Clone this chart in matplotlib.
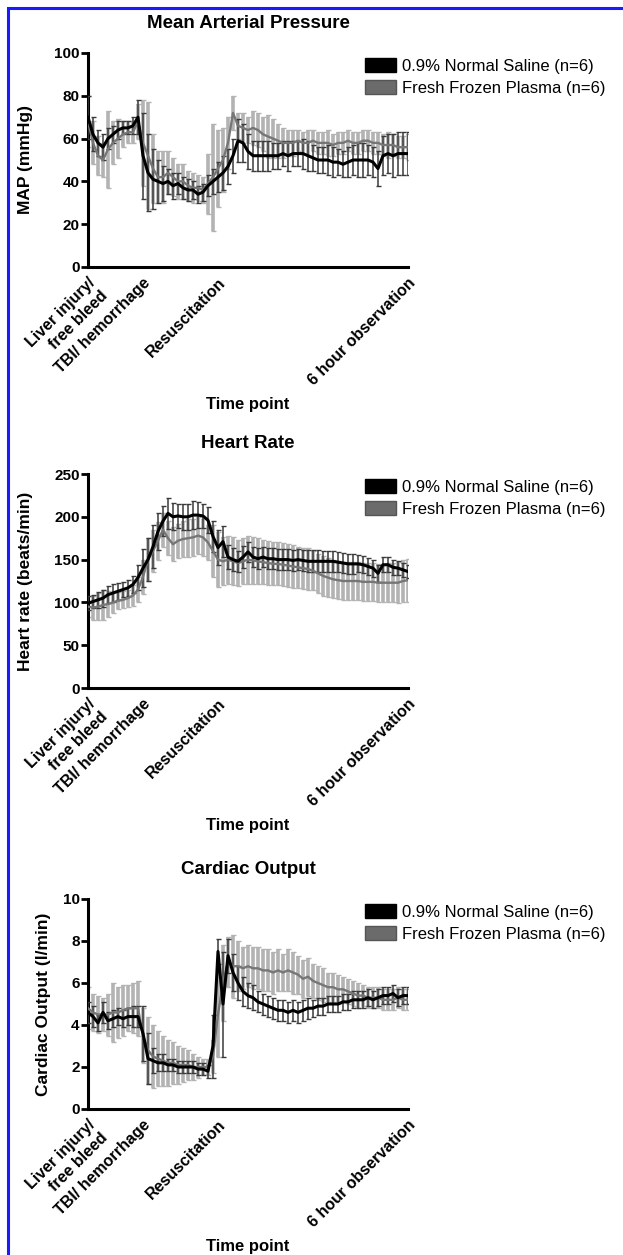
import numpy as np
import matplotlib
matplotlib.use("Agg")
import matplotlib.pyplot as plt
from matplotlib.patches import Patch, Rectangle

plt.rcParams['font.family'] = ['Liberation Sans', 'DejaVu Sans']

# time point labels and where they sit on the sample index axis
tick_pos = [0, 11, 26, 64]
tick_labels = ['Liver injury/\nfree bleed', 'TBI/ hemorrhage', 'Resuscitation', '6 hour observation']
legend_labels = ['0.9% Normal Saline (n=6)', 'Fresh Frozen Plasma (n=6)']

# Mean arterial pressure (mmHg)
map_ns = [70, 62, 58, 56, 60, 62, 64, 65, 65, 66, 70, 52, 44, 41, 40, 39, 40, 38, 39, 37,
          36, 36, 34, 35, 38, 40, 42, 44, 47, 52, 59, 58, 54, 52, 52, 52, 52, 52, 52, 53,
          52, 53, 53, 53, 52, 51, 50, 50, 50, 49, 49, 48, 49, 50, 50, 50, 50, 49, 46, 52,
          53, 52, 53, 53, 53]
map_ns_sd = [10, 8, 6, 6, 5, 4, 4, 3, 3, 4, 8, 20, 18, 14, 10, 8, 6, 6, 5, 5,
             5, 4, 4, 4, 5, 6, 7, 8, 8, 8, 10, 9, 8, 7, 7, 7, 7, 6, 6, 6,
             7, 6, 6, 7, 7, 6, 6, 6, 7, 7, 6, 6, 7, 7, 8, 8, 7, 7, 8, 9,
             9, 10, 10, 10, 10]
map_ffp = [68, 58, 52, 50, 55, 58, 60, 62, 63, 63, 68, 58, 52, 46, 42, 42, 44, 42, 40, 40,
           38, 37, 37, 36, 39, 42, 46, 50, 58, 72, 66, 65, 64, 65, 64, 62, 61, 60, 59, 58,
           58, 58, 59, 58, 58, 59, 58, 58, 58, 57, 58, 58, 59, 58, 58, 59, 59, 58, 58, 57,
           57, 57, 56, 56, 56]
map_ffp_sd = [12, 10, 9, 8, 18, 10, 9, 6, 5, 5, 8, 20, 25, 16, 12, 12, 10, 9, 8, 8,
              7, 7, 6, 6, 14, 25, 18, 15, 12, 8, 6, 7, 6, 8, 8, 8, 10, 9, 8, 7,
              6, 6, 5, 5, 6, 5, 5, 5, 6, 5, 5, 5, 5, 5, 5, 5, 5, 5, 5, 5,
              6, 5, 5, 5, 6]

# Heart rate (beats/min)
hr_ns = [99, 101, 103, 105, 109, 111, 113, 115, 117, 121, 129, 140, 150, 165, 183, 195, 204, 200, 201, 200,
         200, 202, 202, 201, 196, 177, 164, 171, 153, 150, 148, 153, 159, 153, 151, 153, 151, 151, 150, 150,
         150, 149, 150, 149, 148, 148, 148, 148, 148, 148, 147, 146, 145, 145, 145, 144, 142, 140, 134, 144,
         144, 141, 140, 138, 136]
hr_ns_sd = [8, 8, 9, 10, 10, 10, 10, 9, 9, 10, 15, 22, 25, 25, 22, 18, 18, 16, 14, 15,
            15, 16, 15, 14, 15, 18, 20, 18, 14, 13, 12, 13, 12, 12, 12, 12, 12, 12, 12, 12,
            12, 12, 12, 12, 13, 13, 13, 12, 12, 12, 12, 12, 12, 12, 10, 10, 10, 10, 10, 9,
            9, 9, 8, 8, 8]
hr_ffp = [95, 94, 95, 97, 98, 100, 102, 103, 105, 108, 115, 130, 150, 160, 172, 185, 175, 168, 172, 174,
          175, 176, 178, 176, 170, 160, 150, 148, 150, 148, 146, 148, 150, 149, 148, 147, 146, 145, 145, 144,
          143, 142, 141, 140, 139, 137, 134, 131, 129, 127, 126, 125, 125, 125, 125, 124, 124, 124, 123, 123,
          123, 123, 123, 125, 126]
hr_ffp_sd = [12, 14, 16, 17, 15, 12, 10, 10, 10, 12, 15, 20, 25, 25, 22, 20, 20, 20, 20, 21,
             22, 22, 22, 22, 20, 30, 32, 28, 28, 28, 27, 27, 28, 27, 27, 26, 26, 25, 25, 25,
             25, 25, 24, 24, 24, 23, 23, 23, 23, 22, 22, 22, 22, 22, 22, 22, 22, 22, 22, 22,
             23, 23, 24, 25, 25]

# Cardiac output (l/min)
co_ns = [4.6, 4.4, 4.1, 4.6, 4.2, 4.3, 4.4, 4.3, 4.4, 4.4, 4.4, 3.6, 2.4, 2.3, 2.2, 2.2, 2.1, 2.1, 2.0, 2.0,
         2.0, 2.0, 1.9, 1.9, 1.8, 3.0, 7.5, 5.0, 7.3, 6.5, 6.0, 5.6, 5.4, 5.3, 5.1, 5.0, 4.9, 4.8, 4.7, 4.7,
         4.6, 4.7, 4.6, 4.7, 4.8, 4.8, 4.9, 4.9, 5.0, 5.0, 5.0, 5.1, 5.1, 5.2, 5.2, 5.2, 5.3, 5.2, 5.3, 5.4,
         5.4, 5.5, 5.3, 5.4, 5.4]
co_ns_sd = [0.5, 0.5, 0.4, 0.5, 0.4, 0.4, 0.4, 0.4, 0.4, 0.5, 0.5, 1.3, 1.2, 0.6, 0.4, 0.4, 0.3, 0.3, 0.3, 0.3,
            0.3, 0.3, 0.3, 0.3, 0.3, 1.5, 0.6, 2.5, 0.8, 0.9, 0.8, 0.7, 0.6, 0.6, 0.5, 0.5, 0.5, 0.5, 0.5, 0.5,
            0.5, 0.5, 0.5, 0.5, 0.5, 0.4, 0.4, 0.4, 0.4, 0.4, 0.4, 0.4, 0.4, 0.4, 0.4, 0.4, 0.4, 0.4, 0.4, 0.4,
            0.4, 0.4, 0.4, 0.4, 0.4]
co_ffp = [4.8, 4.6, 4.5, 4.5, 4.5, 4.6, 4.6, 4.7, 4.8, 4.8, 4.8, 3.5, 2.8, 2.5, 2.4, 2.3, 2.2, 2.2, 2.1, 2.1,
          2.1, 2.0, 2.0, 2.0, 2.0, 2.5, 4.5, 6.0, 7.0, 6.8, 6.8, 6.7, 6.8, 6.7, 6.7, 6.6, 6.6, 6.5, 6.6, 6.5,
          6.6, 6.5, 6.4, 6.2, 6.3, 6.1, 6.0, 5.9, 5.8, 5.8, 5.7, 5.7, 5.6, 5.5, 5.4, 5.4, 5.3, 5.3, 5.3, 5.2,
          5.2, 5.2, 5.3, 5.2, 5.2]
co_ffp_sd = [1.0, 0.9, 0.9, 0.8, 1.0, 1.4, 1.2, 1.2, 1.1, 1.2, 1.3, 1.3, 1.6, 1.5, 1.3, 1.2, 1.1, 1.0, 0.9, 0.8,
             0.7, 0.6, 0.5, 0.4, 0.4, 0.8, 2.0, 1.8, 1.2, 1.5, 1.2, 1.0, 1.0, 1.0, 1.0, 1.0, 1.0, 1.0, 1.0, 0.9,
             1.0, 1.0, 0.9, 0.9, 0.9, 0.8, 0.8, 0.8, 0.7, 0.7, 0.7, 0.6, 0.6, 0.6, 0.6, 0.5, 0.5, 0.5, 0.5, 0.5,
             0.5, 0.5, 0.5, 0.5, 0.5]

panels = [
    ('Mean Arterial Pressure', 'MAP (mmHg)', map_ns, map_ns_sd, map_ffp, map_ffp_sd,
     100, 20, 53, 267, -0.172),
    ('Heart Rate', 'Heart rate (beats/min)', hr_ns, hr_ns_sd, hr_ffp, hr_ffp_sd,
     250, 50, 474, 688, -0.172),
    ('Cardiac Output', 'Cardiac Output (l/min)', co_ns, co_ns_sd, co_ffp, co_ffp_sd,
     10, 2, 899, 1109, -0.115),
]

W, H = 623, 1255
fig = plt.figure(figsize=(W / 100, H / 100), dpi=100)

for title, ylab, ns, ns_sd, ffp, ffp_sd, ymax, ystep, top, bot, ylx in panels:
    ax = fig.add_axes([88 / W, 1 - bot / H, 320 / W, (bot - top) / H])
    t = np.arange(len(ns))

    # light grey bars for plasma, darker thin bars for saline, then the mean lines
    _, caps, _ = ax.errorbar(t, ffp, yerr=ffp_sd, fmt='none', ecolor='#b3b3b3', elinewidth=2.6,
                             capsize=1.8, capthick=1.0, zorder=2)
    for c in caps:
        c.set_color('#888888')
    ax.errorbar(t, ns, yerr=ns_sd, fmt='none', ecolor='#3a3a3a', elinewidth=1.1,
                capsize=1.8, capthick=1.0, zorder=3)
    ax.plot(t, ffp, color='#767676', lw=1.7, zorder=4)
    ax.plot(t, ns, color='black', lw=2.2, zorder=5)

    ax.set_xlim(0, len(ns) - 1)
    ax.set_ylim(0, ymax)
    ax.set_yticks(np.arange(0, ymax + ystep / 2, ystep))
    ax.set_xticks(tick_pos)
    ax.set_xticklabels(tick_labels, rotation=45, ha='right', rotation_mode='anchor',
                       fontsize=11.5, fontweight='bold')
    for lab in ax.get_yticklabels():
        lab.set_fontweight('bold')
        lab.set_fontsize(11)
    ax.tick_params(axis='x', length=0, pad=6)
    ax.tick_params(axis='y', length=5, width=2, pad=1)

    for s in ['top', 'right']:
        ax.spines[s].set_visible(False)
    for s in ['left', 'bottom']:
        ax.spines[s].set_linewidth(2.2)

    ax.set_ylabel(ylab, fontsize=12.5, fontweight='bold')
    ax.yaxis.set_label_coords(ylx, 0.5)
    ax.set_xlabel('Time point', fontsize=12, fontweight='bold')
    ax.xaxis.set_label_coords(0.5, -(138 - 8) / (bot - top))

    ax.text(0.5, 1 + 30 / (bot - top), title, transform=ax.transAxes,
            ha='center', va='center', fontsize=13.5, fontweight='bold')

    handles = [Patch(facecolor='black', edgecolor='black'),
               Patch(facecolor='#6b6b6b', edgecolor='#555555')]
    ax.legend(handles, legend_labels, loc='upper left',
              bbox_to_anchor=(365 / W, 1 - (top + 5) / H), bbox_transform=fig.transFigure,
              frameon=False, fontsize=12, borderpad=0, borderaxespad=0,
              handlelength=1.85, handleheight=0.9, handletextpad=0.4, labelspacing=0.38)

# blue frame around the figure (left and top edges visible)
fig.patches.append(Rectangle((8 / W, -0.1), 1.5, 1.1 - 8 / H, fill=False,
                             edgecolor='#1a1aff', lw=2.2, transform=fig.transFigure))

fig.savefig('out.png', dpi=100)
